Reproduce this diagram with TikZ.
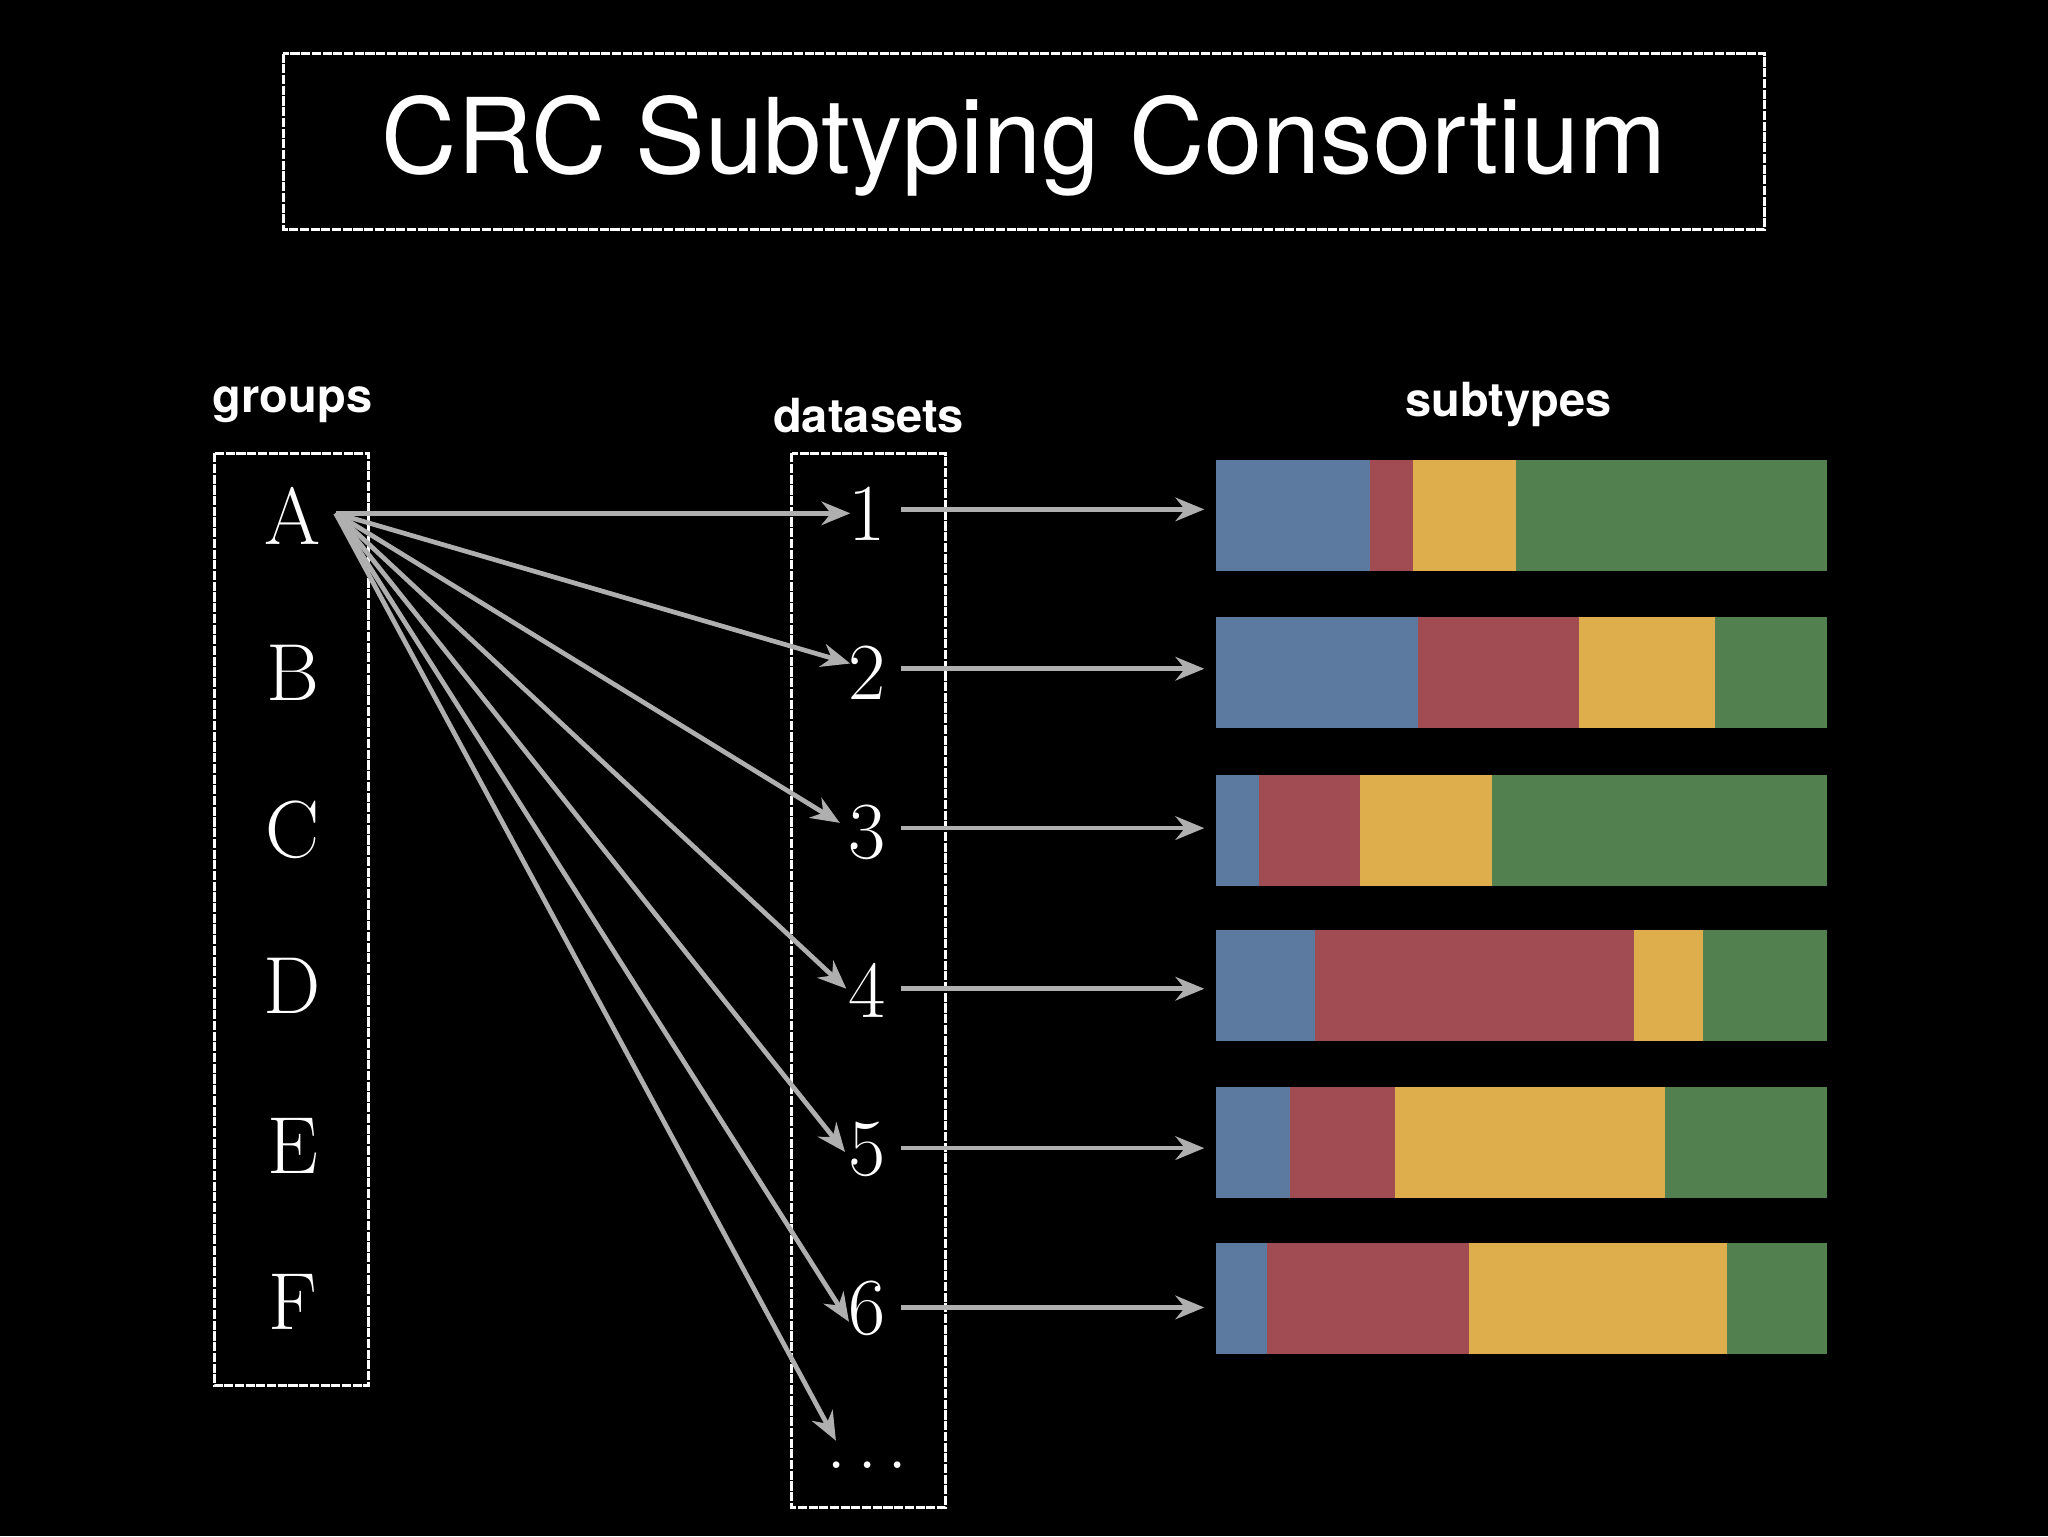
\documentclass[tikz,border=0pt]{standalone}
\usepackage{fontspec}
\newfontfamily\hv{TeX Gyre Heros}
\usetikzlibrary{arrows.meta}
\definecolor{cb}{RGB}{92,122,160}
\definecolor{cr}{RGB}{160,76,82}
\definecolor{cy}{RGB}{222,174,76}
\definecolor{cg}{RGB}{82,128,78}
\definecolor{ag}{RGB}{175,175,175}
\tikzset{
 sk/.style={draw=white,line width=2.4pt,dash pattern=on 7pt off 1.2pt},
 letter/.style={text=white,font=\fontsize{62}{62}\selectfont,anchor=base},
 hdr/.style={text=white,font=\hv\bfseries\fontsize{36}{36}\selectfont},
 arr/.style={draw=ag,line width=3.6pt,-{Stealth[length=22pt,width=18pt]}},
}
\begin{document}
\begin{tikzpicture}[x=1pt,y=-1pt]
\fill[black] (0,0) rectangle (1568,1176);
\useasboundingbox (0,0) rectangle (1568,1176);
\draw[sk] (217,41) rectangle (1351,176);
\node[text=white,font=\hv\fontsize{80}{80}\selectfont] (title) at (784,112) {CRC Subtyping Consortium};
\node[hdr] (hg) at (224,310) {groups};
\node[hdr] (hd) at (665,318) {datasets};
\node[hdr] (hs) at (1155,310) {subtypes};
\draw[sk] (164,347) rectangle (282,1061);
\draw[sk] (606,347) rectangle (724,1154);
\foreach \t/\y [count=\i] in {A/395,B/515,C/635,D/755,E/877,F/997}{
 \node[letter,anchor=center] (g\i) at (224,\y) {\t};
}
\foreach \y [count=\i] in {393,515,637,758,880,1002}{
 \node[letter,anchor=center,inner sep=2pt] (d\i) at (664,\y) {\i};
}
\node[letter,anchor=center,inner sep=2pt] (d7) at (664,1122) {.\hspace{8pt}.\hspace{8pt}.};
\coordinate (src) at (257,393);
\draw[arr] (src) -- (651,393);
\draw[arr] (src) -- (651,508);
\draw[arr] (src) -- (643,630);
\draw[arr] (src) -- (648,757);
\draw[arr] (src) -- (647,882);
\draw[arr] (src) -- (650,1012);
\draw[arr] (src) -- (640,1103);
\foreach \y [count=\i] in {390,512,634,757,879,1001}{
 \coordinate (b\i) at (922,\y);
 \draw[arr] (690,\y) -- (b\i);
}
\foreach \top/\a/\b/\c [count=\i] in {352/1049/1082/1161,472/1086/1209/1313,593/964/1041/1142,712/1007/1251/1304,832/988/1068/1275,952/970/1125/1322}{
 \fill[cb] (931,\top) rectangle (\a,\top+85);
 \fill[cr] (\a,\top) rectangle (\b,\top+85);
 \fill[cy] (\b,\top) rectangle (\c,\top+85);
 \fill[cg] (\c,\top) rectangle (1399,\top+85);
}
\end{tikzpicture}
\end{document}
